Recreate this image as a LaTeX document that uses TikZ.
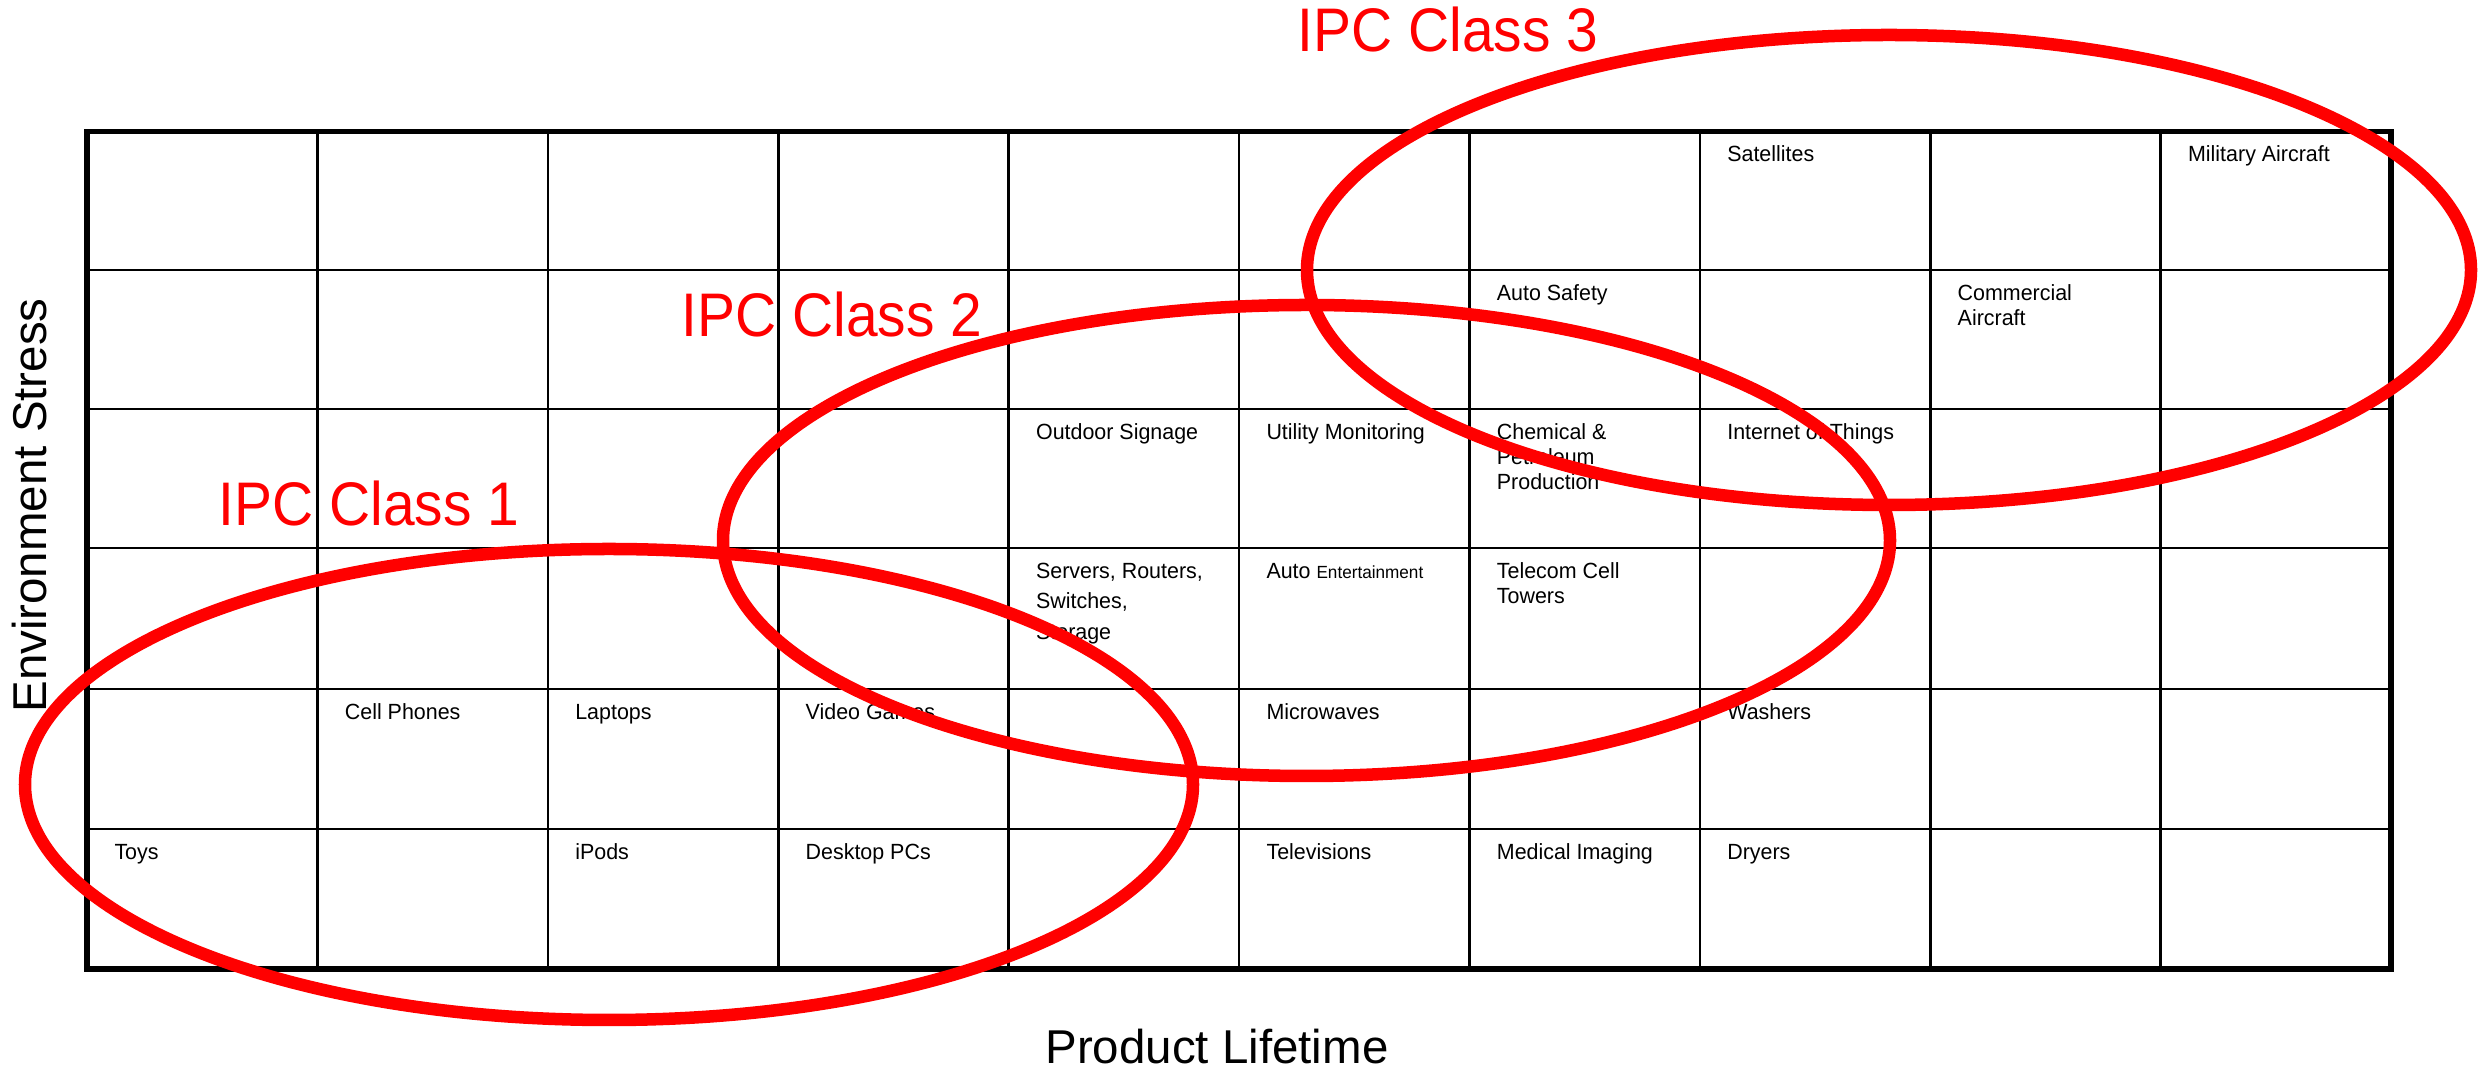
\documentclass[tikz,border=0pt]{standalone}
\usepackage{fontspec}
\setmainfont{Liberation Sans}
\newfontfamily\cellfont[FakeStretch=0.975]{Liberation Sans}
\newfontfamily\ipcfont[FakeStretch=0.925]{Liberation Sans}
\definecolor{ipcred}{RGB}{255,0,0}
\begin{document}
\begin{tikzpicture}[x=0.01cm,y=-0.01cm,
  cell/.style={anchor=base west, inner sep=0pt, outer sep=0pt, align=left,
    font=\cellfont\fontsize{6.25pt}{7.1pt}\selectfont},
  ipc/.style={anchor=base west, inner sep=0pt, text=ipcred,
    font=\ipcfont\fontsize{17.5pt}{20pt}\selectfont},
  axislabel/.style={inner sep=0pt, font=\fontsize{13.5pt}{16pt}\selectfont},
  gridline/.style={line width=0.026cm},
  frameline/.style={line width=0.056cm},
  ring/.style={draw=ipcred, line width=0.125cm}]
\useasboundingbox (0,0) rectangle (2481,1071);
% grid
\coordinate (NW) at (87,131.5);
\coordinate (SE) at (2391,969);
\foreach \i in {1,...,9} \draw[gridline] ({87+230.4*\i},131.5) -- ({87+230.4*\i},969);
\foreach \y in {270,409,548,689,829} \draw[gridline] (87,\y) -- (2391,\y);
\draw[frameline] (NW) rectangle (SE);
% cell texts (multi-line nodes are anchored at the baseline of their last line)
\node[cell] (sat) at (1727.3,162) {Satellites};
\node[cell] (mil) at (2188.1,162) {Military Aircraft};
\node[cell] (aus) at (1496.9,300.5) {Auto Safety};
\node[cell] (com) at (1957.7,325.5) {Commercial\\Aircraft};
\node[cell] (out) at (1036.1,439.5) {Outdoor Signage};
\node[cell] (uti) at (1266.5,439.5) {Utility Monitoring};
\node[cell] (che) at (1496.9,489.5) {Chemical \&\\Petroleum\\Production};
\node[cell] (iot) at (1727.3,439.5) {Internet of Things};
\node[cell, font=\cellfont\fontsize{6.25pt}{8.65pt}\selectfont] (ser) at (1036.1,639.3) {Servers, Routers,\\Switches,\\Storage};
\node[cell] (aue) at (1266.5,578.5) {Auto {\fontsize{5pt}{6pt}\selectfont Entertainment}};
\node[cell] (tel) at (1496.9,603.5) {Telecom Cell\\Towers};
\node[cell] (cel) at (344.9,719.5) {Cell Phones};
\node[cell] (lap) at (575.3,719.5) {Laptops};
\node[cell] (vid) at (805.7,719.5) {Video Games};
\node[cell] (mic) at (1266.5,719.5) {Microwaves};
\node[cell] (was) at (1727.3,719.5) {Washers};
\node[cell] (toy) at (114.5,859.5) {Toys};
\node[cell] (ipo) at (575.3,859.5) {iPods};
\node[cell] (des) at (805.7,859.5) {Desktop PCs};
\node[cell] (tvs) at (1266.5,859.5) {Televisions};
\node[cell] (med) at (1496.9,859.5) {Medical Imaging};
\node[cell] (dry) at (1727.3,859.5) {Dryers};
% axis labels
\node[axislabel, anchor=base] (xlab) at (1217,1064) {Product Lifetime};
\node[axislabel, rotate=90, anchor=base] (ylab) at (47,505.5) {Environment Stress};
% class rings
\draw[ring] (609,784.5) ellipse [x radius=584, y radius=235.5];
\draw[ring] (1306.5,540.5) ellipse [x radius=583.5, y radius=235.5];
\draw[ring] (1889,270) ellipse [x radius=582, y radius=235];
% class labels
\node[ipc] (ipc1) at (218,526) {IPC Class 1};
\node[ipc] (ipc2) at (681,337) {IPC Class 2};
\node[ipc] (ipc3) at (1297,52) {IPC Class 3};
\end{tikzpicture}
\end{document}
